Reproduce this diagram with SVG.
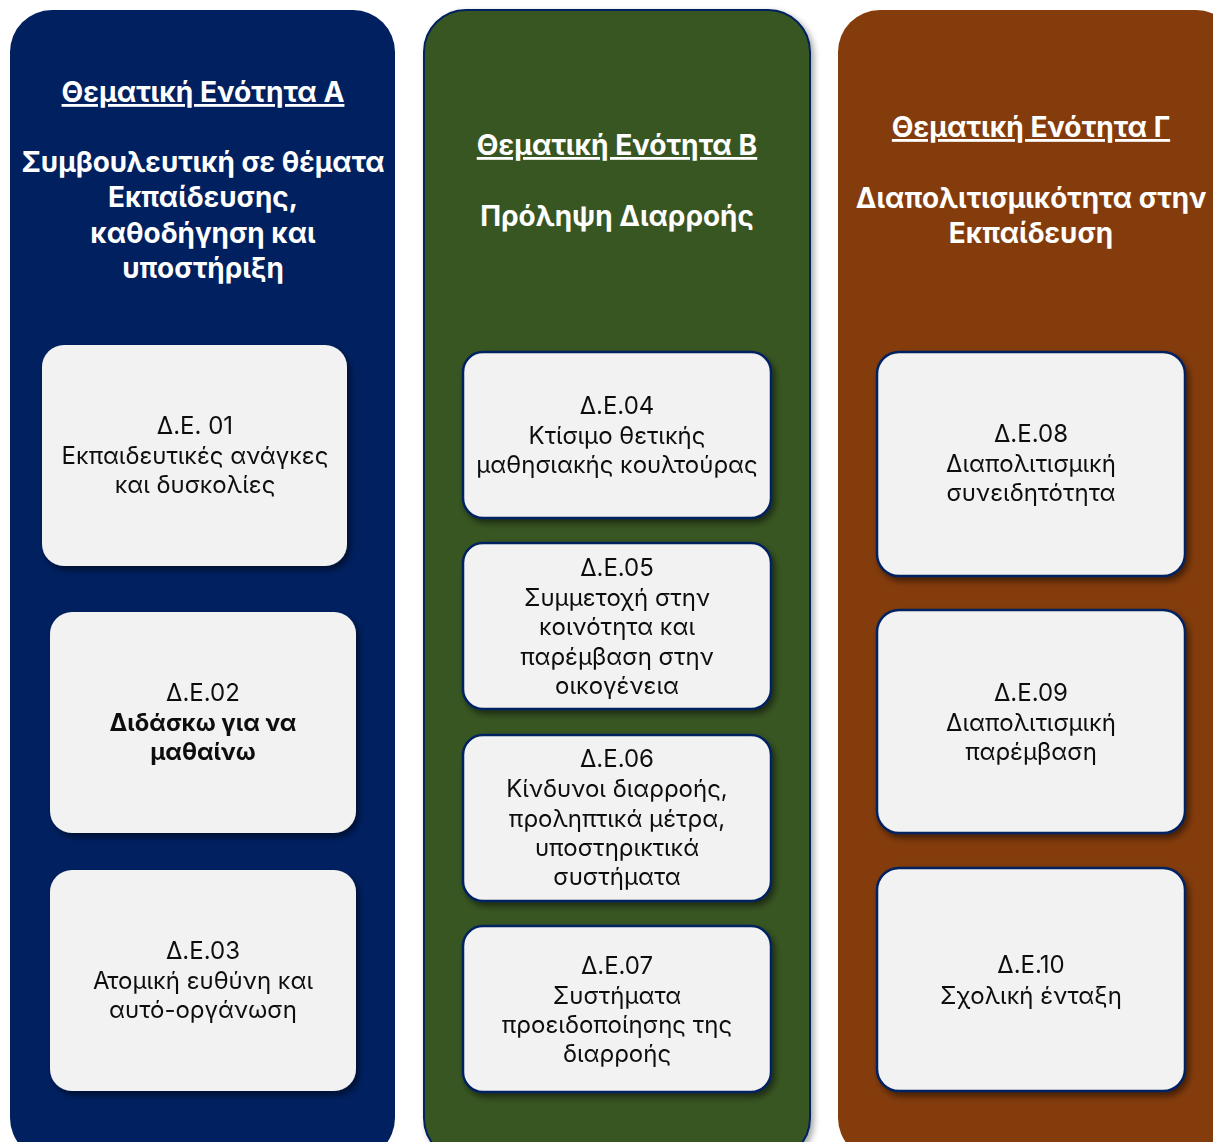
<svg xmlns="http://www.w3.org/2000/svg" width="1213" height="1142" viewBox="0 0 1213 1142">
<defs>
<filter id="sh" x="-10%" y="-10%" width="125%" height="130%">
<feDropShadow dx="3" dy="4" stdDeviation="3" flood-color="#000" flood-opacity="0.5"/>
</filter>
<filter id="shc" x="-10%" y="-10%" width="125%" height="130%">
<feDropShadow dx="3" dy="3" stdDeviation="3" flood-color="#000" flood-opacity="0.35"/>
</filter>
</defs>
<style>
text{font-family:Inter,"Open Sans",sans-serif;text-anchor:middle}
.hd{fill:#fff;font-weight:bold;font-size:28.2px;text-decoration:underline}
.tt{fill:#fff;font-weight:bold;font-size:27.9px}
.nd{fill:#f2f2f2}
.nb{fill:#f2f2f2;stroke:#002060;stroke-width:2.5}
.lb{fill:#111;font-size:24px}
.bd{font-weight:bold}
</style>
<rect width="1213" height="1142" fill="#fff"/>
<g id="colA">
<rect x="10" y="10" width="385" height="1150" rx="42" fill="#002060"/>
<text class="hd" x="203" y="102">Θεματική Ενότητα Α</text>
<text class="tt" x="203" y="172">Συμβουλευτική σε θέματα</text>
<text class="tt" x="203" y="207">Εκπαίδευσης,</text>
<text class="tt" x="203" y="243">καθοδήγηση και</text>
<text class="tt" x="203" y="278">υποστήριξη</text>
</g>
<g id="colB">
<rect x="424" y="10" width="386" height="1150" rx="42" fill="#375623" stroke="#002060" stroke-width="2" filter="url(#shc)"/>
<text class="hd" x="617" y="155">Θεματική Ενότητα Β</text>
<text class="tt" x="617" y="226">Πρόληψη Διαρροής</text>
</g>
<g id="colC">
<rect x="838" y="10" width="400" height="1150" rx="42" fill="#843c0c"/>
<text class="hd" x="1031" y="137">Θεματική Ενότητα Γ</text>
<text class="tt" x="1031" y="208">Διαπολιτισμικότητα στην</text>
<text class="tt" x="1031" y="243">Εκπαίδευση</text>
</g>
<g id="n01" filter="url(#sh)">
<rect class="nd" x="42" y="345" width="305" height="221" rx="22"/>
<text class="lb" x="195" y="434">Δ.Ε. 01</text>
<text class="lb" x="195" y="464">Εκπαιδευτικές ανάγκες</text>
<text class="lb" x="195" y="493">και δυσκολίες</text>
</g>
<g id="n02" filter="url(#sh)">
<rect class="nd" x="50" y="612" width="306" height="221" rx="22"/>
<text class="lb" x="203" y="701">Δ.Ε.02</text>
<text class="lb bd" x="203" y="731">Διδάσκω για να</text>
<text class="lb bd" x="203" y="760">μαθαίνω</text>
</g>
<g id="n03" filter="url(#sh)">
<rect class="nd" x="50" y="870" width="306" height="221" rx="22"/>
<text class="lb" x="203" y="959">Δ.Ε.03</text>
<text class="lb" x="203" y="989">Ατομική ευθύνη και</text>
<text class="lb" x="203" y="1018">αυτό-οργάνωση</text>
</g>
<g id="n04" filter="url(#sh)">
<rect class="nb" x="463" y="352" width="308" height="166" rx="20"/>
<text class="lb" x="617" y="414">Δ.Ε.04</text>
<text class="lb" x="617" y="444">Κτίσιμο θετικής</text>
<text class="lb" x="617" y="473">μαθησιακής κουλτούρας</text>
</g>
<g id="n05" filter="url(#sh)">
<rect class="nb" x="463" y="543" width="308" height="166" rx="20"/>
<text class="lb" x="617" y="576">Δ.Ε.05</text>
<text class="lb" x="617" y="606">Συμμετοχή στην</text>
<text class="lb" x="617" y="635">κοινότητα και</text>
<text class="lb" x="617" y="665">παρέμβαση στην</text>
<text class="lb" x="617" y="694">οικογένεια</text>
</g>
<g id="n06" filter="url(#sh)">
<rect class="nb" x="463" y="735" width="308" height="166" rx="20"/>
<text class="lb" x="617" y="767">Δ.Ε.06</text>
<text class="lb" x="617" y="797">Κίνδυνοι διαρροής,</text>
<text class="lb" x="617" y="827">προληπτικά μέτρα,</text>
<text class="lb" x="617" y="856">υποστηρικτικά</text>
<text class="lb" x="617" y="885">συστήματα</text>
</g>
<g id="n07" filter="url(#sh)">
<rect class="nb" x="463" y="926" width="308" height="166" rx="20"/>
<text class="lb" x="617" y="974">Δ.Ε.07</text>
<text class="lb" x="617" y="1004">Συστήματα</text>
<text class="lb" x="617" y="1033">προειδοποίησης της</text>
<text class="lb" x="617" y="1062">διαρροής</text>
</g>
<g id="n08" filter="url(#sh)">
<rect class="nb" x="877" y="352" width="308" height="224" rx="22"/>
<text class="lb" x="1031" y="442">Δ.Ε.08</text>
<text class="lb" x="1031" y="472">Διαπολιτισμική</text>
<text class="lb" x="1031" y="501">συνειδητότητα</text>
</g>
<g id="n09" filter="url(#sh)">
<rect class="nb" x="877" y="610" width="308" height="223" rx="22"/>
<text class="lb" x="1031" y="701">Δ.Ε.09</text>
<text class="lb" x="1031" y="731">Διαπολιτισμική</text>
<text class="lb" x="1031" y="760">παρέμβαση</text>
</g>
<g id="n10" filter="url(#sh)">
<rect class="nb" x="877" y="868" width="308" height="223" rx="22"/>
<text class="lb" x="1031" y="973">Δ.Ε.10</text>
<text class="lb" x="1031" y="1004">Σχολική ένταξη</text>
</g>
<g id="connectors"></g>
</svg>
